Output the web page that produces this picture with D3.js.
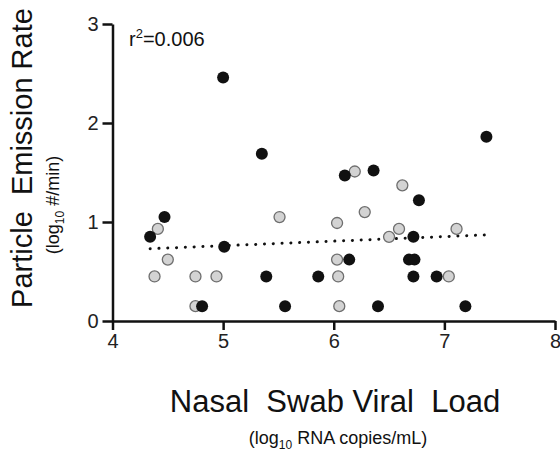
<!DOCTYPE html>
<html>
<head lang="en">
    <meta charset="UTF-8">
    <title></title>
    <script src="https://cdn.jsdelivr.net/npm/d3@7"></script>
    <style>
        body{margin:0;background:#fff;}
        text{font-family:"Liberation Sans",Arial,sans-serif;fill:#111;}
    </style>
</head>
<body>
<div id="chart"></div>
<script>
    // black points (x: log10 RNA copies/mL, y: log10 #/min)
    var blackX=[4.47,4.34,5.01,4.81,6.14,5.39,5.86,5.56,6.40,6.36,6.77,6.72,6.68,6.73,6.72,6.93,7.19,5.00,5.35,6.10,7.38];
    var blackY=[1.05,0.85,0.75,0.15,0.62,0.45,0.45,0.15,0.15,1.52,1.22,0.85,0.62,0.62,0.45,0.45,0.15,2.46,1.69,1.47,1.86];
    // grey points
    var greyX=[4.41,4.50,4.38,4.75,4.94,4.75,5.51,6.03,6.28,6.03,6.04,6.05,6.62,6.59,6.50,7.11,7.04,6.19];
    var greyY=[0.93,0.62,0.45,0.45,0.45,0.15,1.05,0.99,1.10,0.62,0.45,0.15,1.37,0.93,0.85,0.93,0.45,1.51];
    // fitted line ends
    var fitX=[4.34,7.38];
    var fitY=[0.73,0.87];
    var xTicks=[4,5,6,7,8];
    var yTicks=[0,1,2,3];

    var width=560,height=453;
    var mLeft=112.5,mRight=555,mTop=24,mBottom=321;

    var svg=d3.select('#chart').append('svg')
            .attr('width',width)
            .attr('height',height);

    var x=d3.scaleLinear().domain([4,8]).range([mLeft,mRight]);
    var y=d3.scaleLinear().domain([0,3]).range([mBottom,mTop]);

    var gx=svg.append('g')
            .attr('transform','translate(0,'+mBottom+')')
            .call(d3.axisBottom(x).tickValues(xTicks).tickFormat(d3.format('d')).tickSize(9).tickSizeOuter(0).tickPadding(4));
    var gy=svg.append('g')
            .attr('transform','translate('+mLeft+',0)')
            .call(d3.axisLeft(y).tickValues(yTicks).tickFormat(d3.format('d')).tickSize(10).tickSizeOuter(0).tickPadding(4));
    svg.selectAll('.domain,.tick line').style('stroke','#111').style('stroke-width',2.5);
    svg.selectAll('.tick text').style('font-size','20px').style('fill','#222');

    // fit line
    svg.append('line')
            .attr('x1',x(fitX[0])).attr('y1',y(fitY[0]))
            .attr('x2',x(fitX[1])).attr('y2',y(fitY[1]))
            .style('stroke','#111')
            .style('stroke-width',3)
            .style('stroke-linecap','round')
            .style('stroke-dasharray','0.1,8.7');

    svg.selectAll('circle.grey')
            .data(d3.range(greyX.length))
            .enter()
            .append('circle')
            .attr('class','grey')
            .attr('cx',function(d){return x(greyX[d])})
            .attr('cy',function(d){return y(greyY[d])})
            .attr('r',5.5)
            .style('fill','#d3d3d3')
            .style('stroke','#6e6e6e')
            .style('stroke-width',1.3);

    svg.selectAll('circle.black')
            .data(d3.range(blackX.length))
            .enter()
            .append('circle')
            .attr('class','black')
            .attr('cx',function(d){return x(blackX[d])})
            .attr('cy',function(d){return y(blackY[d])})
            .attr('r',6)
            .style('fill','#111');

    var r2=svg.append('text')
            .attr('x',129)
            .attr('y',46)
            .style('font-size','20px');
    r2.append('tspan').text('r');
    r2.append('tspan').attr('dy',-8).style('font-size','13px').text('2');
    r2.append('tspan').attr('dy',8).text('=0.006');

    // axis titles
    svg.append('text')
            .attr('transform','translate(32,158) rotate(-90)')
            .attr('text-anchor','middle')
            .attr('xml:space','preserve')
            .style('font-size','29px')
            .text('Particle  Emission Rate');
    var ys=svg.append('text')
            .attr('transform','translate(59,205) rotate(-90)')
            .attr('text-anchor','middle')
            .style('font-size','18px');
    ys.append('tspan').text('(log');
    ys.append('tspan').attr('dy',5).style('font-size','12px').text('10');
    ys.append('tspan').attr('dy',-5).text(' #/min)');

    svg.append('text')
            .attr('x',335)
            .attr('y',412)
            .attr('text-anchor','middle')
            .attr('xml:space','preserve')
            .style('font-size','31px')
            .text('Nasal  Swab Viral  Load');
    var xs=svg.append('text')
            .attr('x',338)
            .attr('y',444)
            .attr('text-anchor','middle')
            .style('font-size','18px');
    xs.append('tspan').text('(log');
    xs.append('tspan').attr('dy',5).style('font-size','12px').text('10');
    xs.append('tspan').attr('dy',-5).text(' RNA copies/mL)');
</script>
</body>
</html>
